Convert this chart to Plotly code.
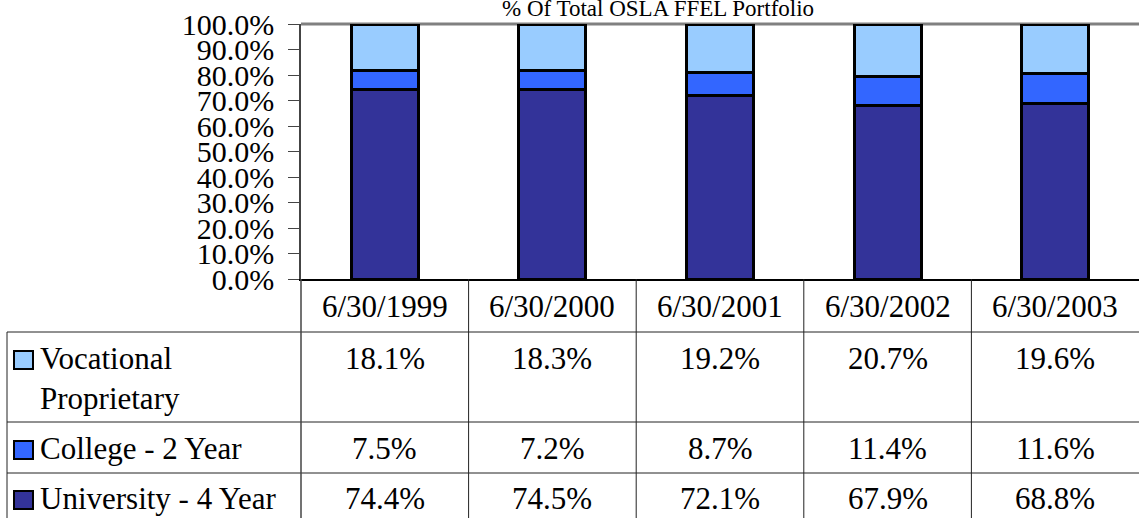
import plotly.graph_objects as go

W, H = 1139, 518

dates = ["6/30/1999", "6/30/2000", "6/30/2001", "6/30/2002", "6/30/2003"]
university = [74.4, 74.5, 72.1, 67.9, 68.8]
college = [7.5, 7.2, 8.7, 11.4, 11.6]
vocational = [18.1, 18.3, 19.2, 20.7, 19.6]

series = [
    ("University - 4 Year", university, "#333399"),
    ("College - 2 Year", college, "#3366FF"),
    ("Vocational<br>Proprietary", vocational, "#99CCFF"),
]

FONT = "Liberation Serif"


def px(x):
    return x / W


def py(y):
    return 1 - y / H


fig = go.Figure()
for name, vals, col in series:
    fig.add_trace(go.Bar(
        x=dates, y=vals, name=name, width=0.4,
        marker=dict(color=col, line=dict(color="black", width=3)),
        showlegend=False,
    ))

shapes = []
annotations = []

# gray top border of plot area
shapes.append(dict(type="line", xref="paper", yref="paper",
                   x0=px(301), x1=1, y0=py(24), y1=py(24),
                   line=dict(color="#808080", width=3), layer="below"))

# table rows: (label, values, colour, text-y) top-down order of the table
rows = [
    ("Vocational<br>Proprietary", vocational, "#99CCFF", 339),
    ("College - 2 Year", college, "#3366FF", 429),
    ("University - 4 Year", university, "#333399", 479),
]

# horizontal table lines
for y in [332, 422, 473]:
    shapes.append(dict(type="line", xref="paper", yref="paper",
                       x0=px(7), x1=1, y0=py(y), y1=py(y),
                       line=dict(color="#222222", width=1)))
# left border
shapes.append(dict(type="line", xref="paper", yref="paper",
                   x0=px(7), x1=px(7), y0=py(332), y1=0,
                   line=dict(color="#222222", width=1)))
# axis line extended down through table
shapes.append(dict(type="line", xref="paper", yref="paper",
                   x0=px(301), x1=px(301), y0=py(279), y1=0,
                   line=dict(color="#444444", width=1.5)))
# column separators
for i in range(len(dates) - 1):
    shapes.append(dict(type="line", xref="x", yref="paper",
                       x0=i + 0.5, x1=i + 0.5, y0=py(279), y1=0,
                       line=dict(color="#222222", width=1)))

# header labels
for d in dates:
    annotations.append(dict(x=d, xref="x", y=py(306), yref="paper",
                            text=d, showarrow=False, yanchor="middle",
                            font=dict(size=31, color="black", family=FONT)))

for label, vals, col, ty in rows:
    key_y = ty + 21
    shapes.append(dict(type="rect", xref="paper", yref="paper",
                       x0=px(14), x1=px(33), y0=py(key_y - 9), y1=py(key_y + 9),
                       fillcolor=col, line=dict(color="black", width=2)))
    annotations.append(dict(x=px(38), xref="paper", y=py(ty), yref="paper",
                            text=label, showarrow=False, xanchor="left",
                            yanchor="top", align="left",
                            font=dict(size=31, color="black", family=FONT)))
    for d, v in zip(dates, vals):
        annotations.append(dict(x=d, xref="x", y=py(ty), yref="paper",
                                text=f"{v:.1f}%", showarrow=False,
                                yanchor="top",
                                font=dict(size=31, color="black", family=FONT)))

annotations.append(dict(x=px(658), xref="paper", y=py(9), yref="paper",
                        text="% Of Total OSLA FFEL Portfolio", showarrow=False,
                        yanchor="middle",
                        font=dict(size=23, color="black", family=FONT)))

fig.update_layout(
    width=W, height=H,
    margin=dict(l=0, r=0, t=0, b=0),
    paper_bgcolor="white", plot_bgcolor="white",
    barmode="stack", bargap=0.6,
    font=dict(family=FONT, color="black"),
    xaxis=dict(domain=[px(301), 1], showticklabels=False, showgrid=False,
               showline=True, linecolor="black", linewidth=1.5,
               range=[-0.5, 4.5], zeroline=False, automargin=False),
    yaxis=dict(domain=[py(279), py(24)], range=[0, 100], dtick=10,
               tickformat=".1f", ticksuffix="%", showgrid=False,
               ticks="outside", ticklen=11, tickcolor="#444444",
               ticklabelstandoff=8,
               showline=True, linecolor="#444444", linewidth=1.5,
               zeroline=False, automargin=False,
               tickfont=dict(size=30, color="black", family=FONT)),
    shapes=shapes, annotations=annotations,
)

fig.write_html("out.html", config={"displayModeBar": False},
               post_script="document.body.style.margin='0';")
